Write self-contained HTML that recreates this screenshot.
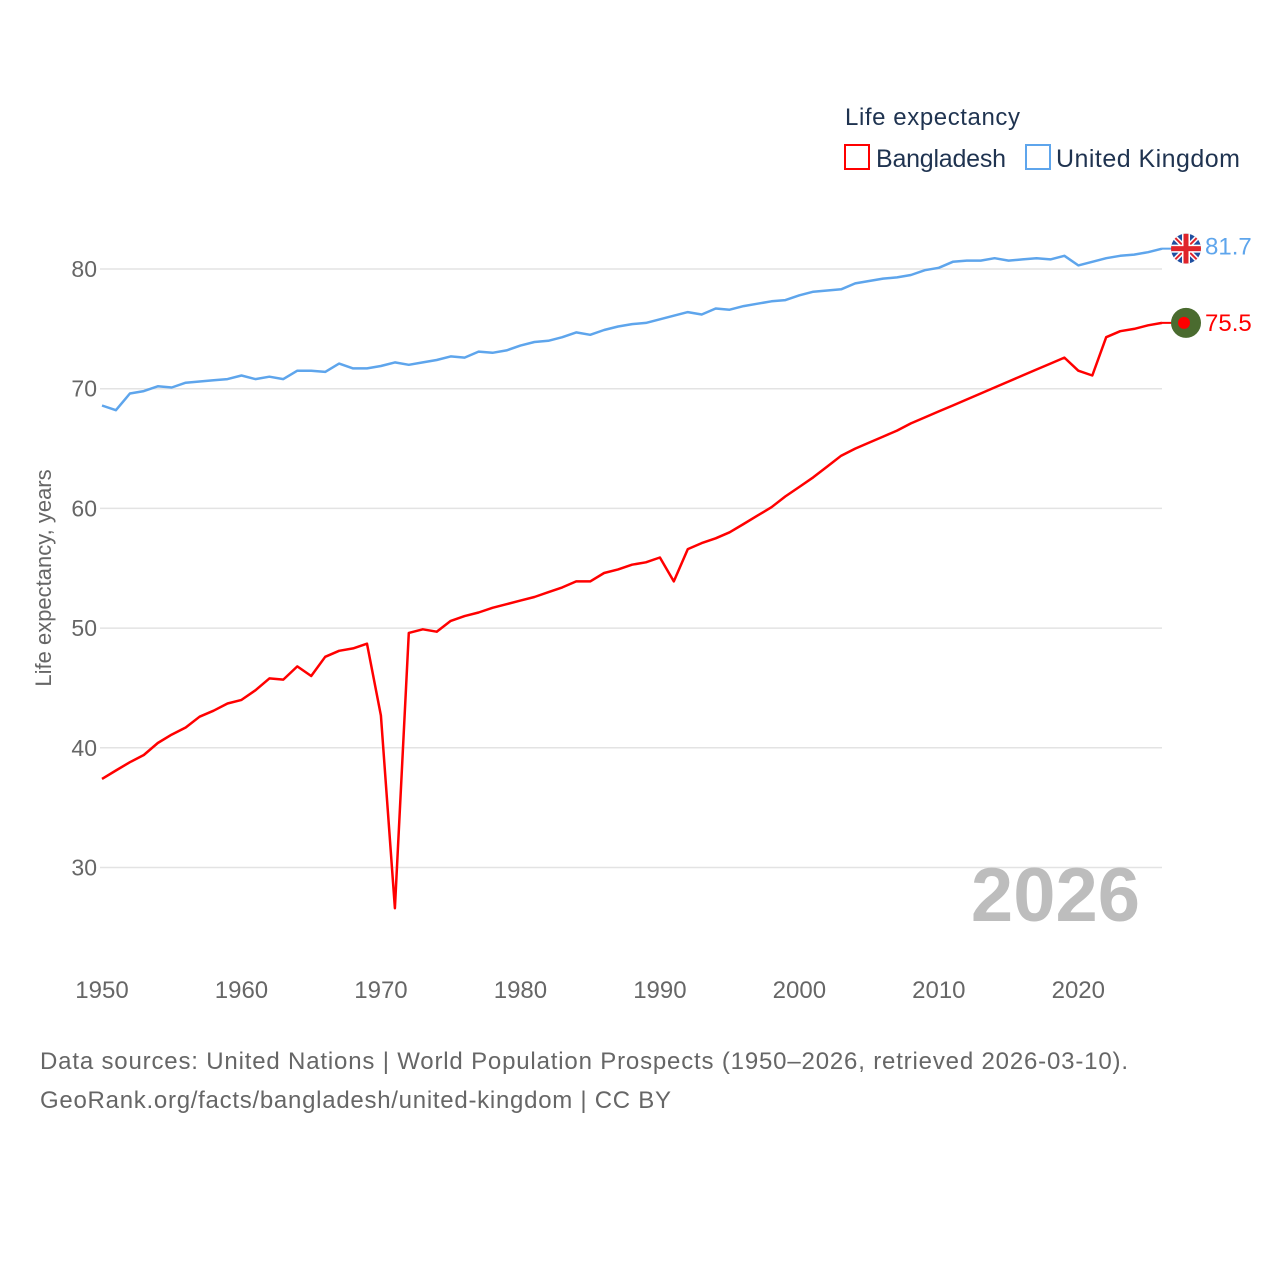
<!DOCTYPE html>
<html><head><meta charset="utf-8">
<style>
html,body{margin:0;padding:0;background:#fff;width:1280px;height:1280px;overflow:hidden}
svg{display:block;font-family:"Liberation Sans",sans-serif}
</style></head>
<body>
<svg id="chart" width="1280" height="1280" viewBox="0 0 1280 1280">
  <text x="845" y="125" font-size="24" fill="#1f3350" textLength="175">Life expectancy</text>
  <g>
    <rect x="845" y="145" width="24" height="24" fill="none" stroke="#ff0000" stroke-width="2"/>
    <text x="876" y="167" font-size="25" fill="#1f3350" textLength="130">Bangladesh</text>
  </g>
  <g>
    <rect x="1026" y="145" width="24" height="24" fill="none" stroke="#5ea5ec" stroke-width="2"/>
    <text x="1056" y="167" font-size="25" fill="#1f3350" textLength="184">United Kingdom</text>
  </g>
  <g id="grid"></g>
  <g id="yticks"></g>
  <g id="xticks"></g>
  <text transform="translate(51,578) rotate(-90)" text-anchor="middle" font-size="22" fill="#666">Life expectancy, years</text>
  <text x="1140" y="921" text-anchor="end" font-size="76" font-weight="bold" fill="#bdbdbd">2026</text>
  <g id="series"></g>
  <g id="ends"></g>
  <text x="40" y="1069" font-size="24" fill="#666" textLength="1088">Data sources: United Nations | World Population Prospects (1950–2026, retrieved 2026-03-10).</text>
  <text x="40" y="1108" font-size="24" fill="#666" textLength="631">GeoRank.org/facts/bangladesh/united-kingdom | CC BY</text>
</svg>
<script>
const years = [];
for (let y = 1950; y <= 2026; y++) years.push(y);
const bangladesh = [37.4,38.1,38.8,39.4,40.4,41.1,41.7,42.6,43.1,43.7,44.0,44.8,45.8,45.7,46.8,46.0,47.6,48.1,48.3,48.7,42.7,26.6,49.6,49.9,49.7,50.6,51.0,51.3,51.7,52.0,52.3,52.6,53.0,53.4,53.9,53.9,54.6,54.9,55.3,55.5,55.9,53.9,56.6,57.1,57.5,58.0,58.7,59.4,60.1,61.0,61.8,62.6,63.5,64.4,65.0,65.5,66.0,66.5,67.1,67.6,68.1,68.6,69.1,69.6,70.1,70.6,71.1,71.6,72.1,72.6,71.5,71.1,74.3,74.8,75.0,75.3,75.5];
const uk = [68.6,68.2,69.6,69.8,70.2,70.1,70.5,70.6,70.7,70.8,71.1,70.8,71.0,70.8,71.5,71.5,71.4,72.1,71.7,71.7,71.9,72.2,72.0,72.2,72.4,72.7,72.6,73.1,73.0,73.2,73.6,73.9,74.0,74.3,74.7,74.5,74.9,75.2,75.4,75.5,75.8,76.1,76.4,76.2,76.7,76.6,76.9,77.1,77.3,77.4,77.8,78.1,78.2,78.3,78.8,79.0,79.2,79.3,79.5,79.9,80.1,80.6,80.7,80.7,80.9,80.7,80.8,80.9,80.8,81.1,80.3,80.6,80.9,81.1,81.2,81.4,81.7];
const yTicks = [30,40,50,60,70,80];
const xTicks = [1950,1960,1970,1980,1990,2000,2010,2020];
const endLabels = ["75.5","81.7"];

const NS = "http://www.w3.org/2000/svg";
const X0 = 102, X1 = 1162;
const xs = y => X0 + (y - 1950) * (X1 - X0) / 76;
const ys = v => 269 + (80 - v) * 11.97;
function mk(tag, attrs, parent) {
  const e = document.createElementNS(NS, tag);
  for (const k in attrs) e.setAttribute(k, attrs[k]);
  parent.appendChild(e);
  return e;
}
const grid = document.getElementById('grid'), yt = document.getElementById('yticks'), xt = document.getElementById('xticks');
yTicks.forEach(t => {
  const l = mk('line', {x1: 100, x2: X1, y1: ys(t), y2: ys(t), stroke: '#e3e3e3', 'stroke-width': 1.5}, grid);
  
  
  const tx = mk('text', {x: 97, y: ys(t) + 8, 'text-anchor': 'end', 'font-size': 23, fill: '#666'}, yt);
  tx.textContent = t;
  
  
});
xTicks.forEach(t => {
  const tx = mk('text', {x: xs(t), y: 998, 'text-anchor': 'middle', 'font-size': 24, fill: '#666'}, xt);
  tx.textContent = t;
  
  
});
const ser = document.getElementById('series');
function line(vals, color, name) {
  const d = vals.map((v, i) => (i ? 'L' : 'M') + xs(years[i]).toFixed(1) + ',' + ys(v).toFixed(1)).join('');
  const p = mk('path', {d: d, fill: 'none', stroke: color, 'stroke-width': 2.5, 'stroke-linejoin': 'round'}, ser);
  
  
}
line(uk, '#5ea5ec', 'uk-line');
line(bangladesh, '#ff0000', 'bangladesh-line');

const ends = document.getElementById('ends');
const by = ys(bangladesh[bangladesh.length - 1]);
mk('line', {x1: X1, x2: 1172, y1: by, y2: by, stroke: '#ff0000', 'stroke-width': 2}, ends);
const bflag = mk('g', {}, ends);


mk('circle', {cx: 1186, cy: by, r: 15, fill: '#4a6b2f'}, bflag);
mk('circle', {cx: 1184, cy: by, r: 6, fill: '#ff0000'}, bflag);
const bl = mk('text', {x: 1205, y: by + 8, 'font-size': 24, fill: '#ff0000'}, ends);
bl.textContent = endLabels[0];


const uy = ys(uk[uk.length - 1]);
mk('line', {x1: X1, x2: 1172, y1: uy, y2: uy, stroke: '#5ea5ec', 'stroke-width': 2}, ends);
const uf = mk('g', {}, ends);


mk('clipPath', {id: 'ukc'}, uf);
mk('circle', {cx: 1186, cy: uy, r: 15}, uf.querySelector('#ukc'));
const ug = mk('g', {'clip-path': 'url(#ukc)'}, uf);
mk('rect', {x: 1171, y: uy - 15, width: 30, height: 30, fill: '#1f4fa0'}, ug);
mk('line', {x1: 1171, y1: uy - 15, x2: 1201, y2: uy + 15, stroke: '#fff', 'stroke-width': 5}, ug);
mk('line', {x1: 1201, y1: uy - 15, x2: 1171, y2: uy + 15, stroke: '#fff', 'stroke-width': 5}, ug);
mk('line', {x1: 1171, y1: uy - 15, x2: 1201, y2: uy + 15, stroke: '#e0242b', 'stroke-width': 2}, ug);
mk('line', {x1: 1201, y1: uy - 15, x2: 1171, y2: uy + 15, stroke: '#e0242b', 'stroke-width': 2}, ug);
mk('rect', {x: 1171, y: uy - 4, width: 30, height: 8, fill: '#fff'}, ug);
mk('rect', {x: 1182, y: uy - 15, width: 8, height: 30, fill: '#fff'}, ug);
mk('rect', {x: 1171, y: uy - 2.5, width: 30, height: 5, fill: '#e0242b'}, ug);
mk('rect', {x: 1183.5, y: uy - 15, width: 5, height: 30, fill: '#e0242b'}, ug);
const ul = mk('text', {x: 1205, y: uy + 6, 'font-size': 24, fill: '#5ea5ec'}, ends);
ul.textContent = endLabels[1];


</script>
</body></html>
